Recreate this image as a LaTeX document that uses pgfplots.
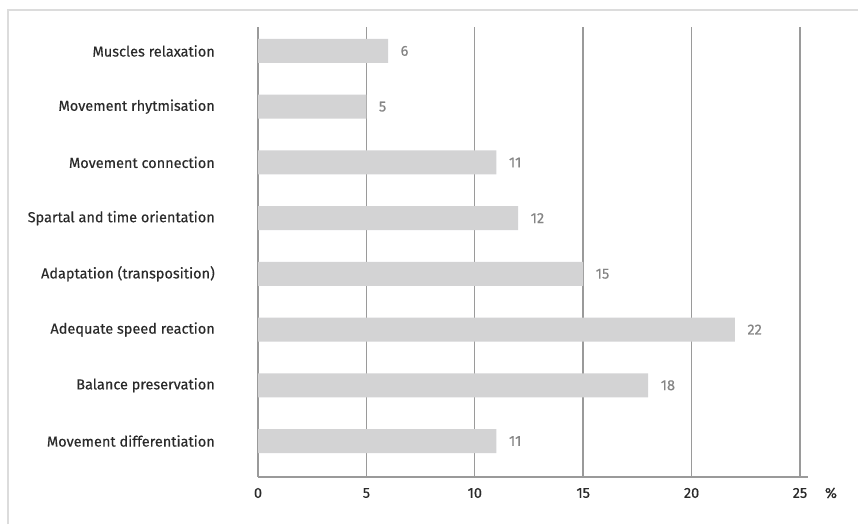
\documentclass[border=0pt]{standalone}
\usepackage{pgfplots}
\pgfplotsset{compat=1.18}
\usepackage{fontspec}
\setmainfont{Fira Sans}[FakeBold=0.35]
\definecolor{barfill}{HTML}{D3D3D4}
\definecolor{gridcol}{HTML}{9A9A9A}
\definecolor{labcol}{HTML}{2A2A2A}
\definecolor{valcol}{HTML}{858585}
\definecolor{framecol}{HTML}{DCDCDC}
\begin{document}
\begin{tikzpicture}[x=1pt,y=1pt]
\useasboundingbox (0,0) rectangle (858,524);
% outer frame (top and left edges)
\draw[framecol, line width=1.5pt] (8,0) -- (8,514) -- (860,514);
\begin{axis}[
  at={(258pt,47pt)}, anchor=south west,
  scale only axis, width=550pt, height=450pt,
  xbar, bar width=24pt, bar shift=0pt,
  xmin=0, xmax=25.37, ymin=-0.646, ymax=7.43,
  axis x line*=bottom, axis y line*=left,
  x axis line style={gridcol, line width=1.4pt},
  y axis line style={draw=none},
  xtick={0,5,10,15,20,25}, major tick length=0pt,
  xmajorgrids, grid style={gridcol, line width=1.4pt},
  ytick={0,...,7},
  yticklabels={Movement differentiation, Balance preservation, Adequate speed reaction, Adaptation (transposition), Spartal and time orientation, Movement connection, Movement rhytmisation, Muscles relaxation},
  tick label style={font=\fontsize{14.5}{16}\selectfont, text=labcol},
  /pgf/number format/assume math mode=true,
  xticklabel style={inner sep=0pt, anchor=center, yshift=-16pt},
  yticklabel style={inner sep=0pt, anchor=east, xshift=-43pt},
  nodes near coords, point meta=x,
  nodes near coords style={font=\fontsize{14.5}{16}\selectfont, text=valcol, anchor=west, xshift=9pt,
    /pgf/number format/fixed, /pgf/number format/precision=0},
  clip=false,
]
\addplot[fill=barfill, draw=none] coordinates {
  (11,0) (18,1) (22,2) (15,3) (12,4) (11,5) (5,6) (6,7)
};
\node[font=\fontsize{14.5}{16}\selectfont, text=labcol, anchor=center] at (axis cs:25,-0.646) [xshift=31pt, yshift=-16pt] {\%};
\end{axis}
\end{tikzpicture}
\end{document}
